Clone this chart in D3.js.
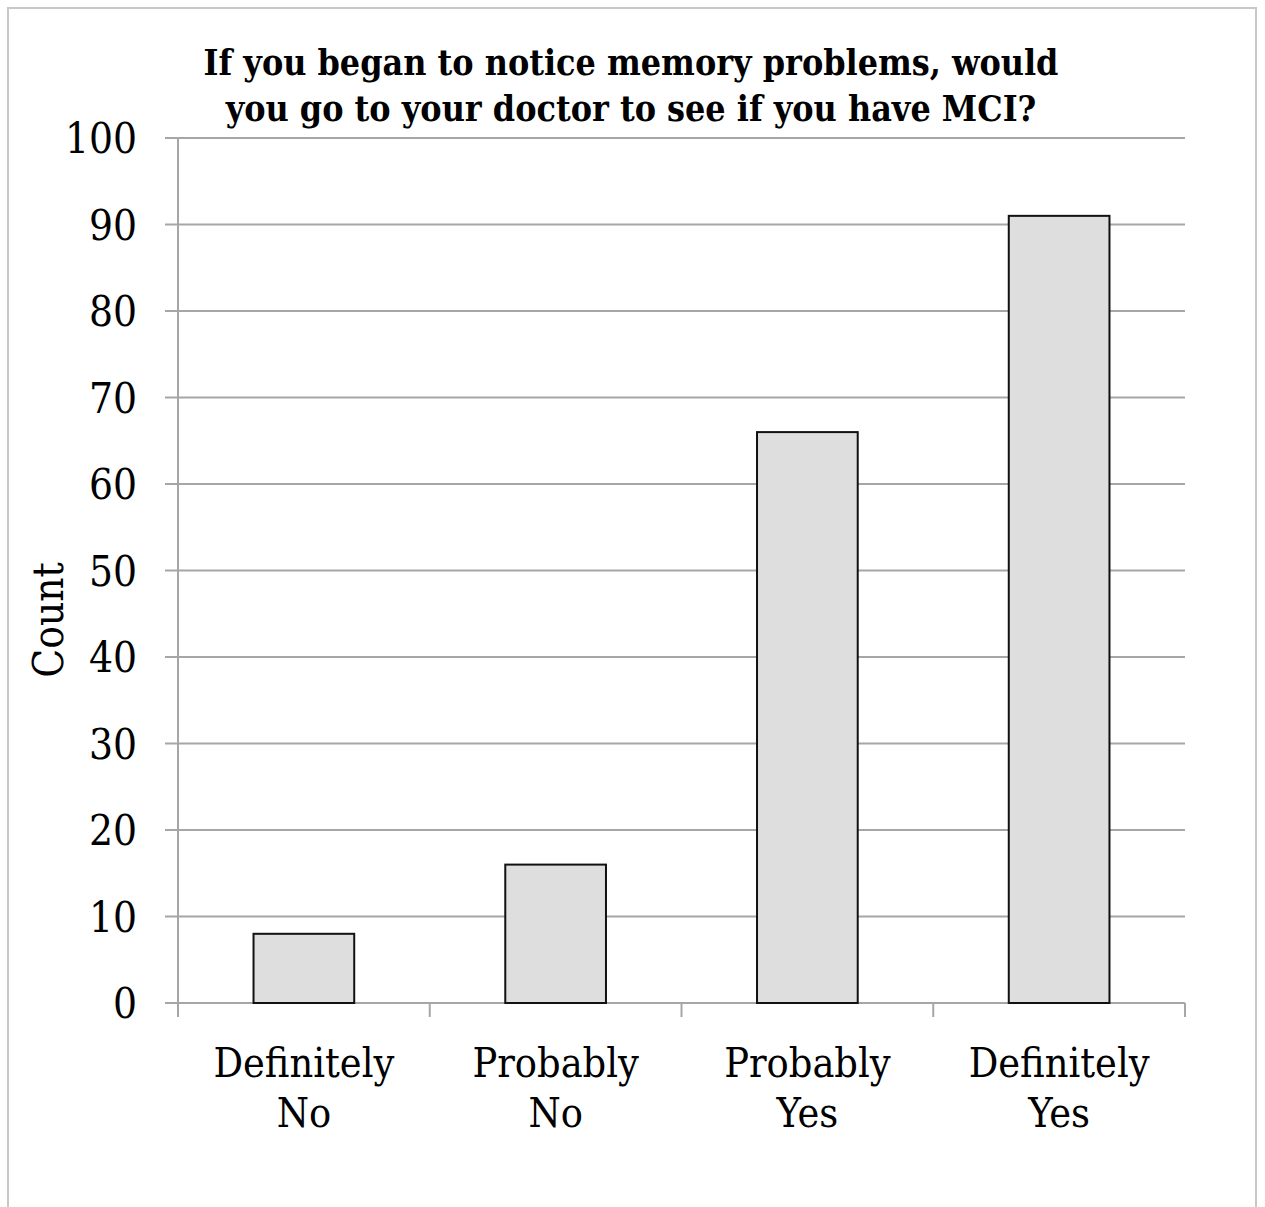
<!DOCTYPE html>
<html>
<head>
<meta charset="utf-8">
<script src="https://cdn.jsdelivr.net/npm/d3@7"></script>
<style>
  body { margin: 0; background: #fff; }
  svg { display: block; }
</style>
</head>
<body>
<svg id="chart" width="1265" height="1207"></svg>
<script>
const categories = [["Definitely", "No"], ["Probably", "No"], ["Probably", "Yes"], ["Definitely", "Yes"]];
const counts = [8, 16, 66, 91];
const yTicks = [0, 10, 20, 30, 40, 50, 60, 70, 80, 90, 100];
const titleLines = ["If you began to notice memory problems, would", "you go to your doctor to see if you have MCI?"];

const font = "'DejaVu Serif Condensed', 'Liberation Serif', serif";
const svg = d3.select("#chart");
const width = +svg.attr("width");

// picture frame
svg.append("rect")
  .attr("x", 8).attr("y", 8)
  .attr("width", 1248).attr("height", 1210)
  .attr("fill", "none")
  .attr("stroke", "#c8c8c8")
  .attr("stroke-width", 2);

const margin = { left: 178, right: 80, top: 138, bottom: 204 };
const x = d3.scaleBand()
  .domain(d3.range(categories.length))
  .range([margin.left, width - margin.right])
  .paddingInner(0.6)
  .paddingOuter(0.3);
const y = d3.scaleLinear().domain([0, 100]).range([1003, margin.top]);

// gridlines
svg.append("g")
  .selectAll("line")
  .data(yTicks)
  .join("line")
  .attr("x1", margin.left - 13)
  .attr("x2", width - margin.right)
  .attr("y1", (d) => y(d))
  .attr("y2", (d) => y(d))
  .attr("stroke", "#a6a6a6")
  .attr("stroke-width", 2);

svg.append("line")
  .attr("x1", margin.left).attr("x2", margin.left)
  .attr("y1", y(100)).attr("y2", y(0) + 8)
  .attr("stroke", "#a6a6a6").attr("stroke-width", 2);

// x ticks at category boundaries
const step = x.step();
svg.append("g")
  .selectAll("line")
  .data(d3.range(categories.length + 1))
  .join("line")
  .attr("x1", (i) => margin.left + i * step)
  .attr("x2", (i) => margin.left + i * step)
  .attr("y1", y(0))
  .attr("y2", y(0) + 14)
  .attr("stroke", "#a6a6a6")
  .attr("stroke-width", 2);

svg.append("g")
  .selectAll("text")
  .data(yTicks)
  .join("text")
  .attr("x", 137)
  .attr("y", (d) => y(d))
  .attr("dy", "0.36em")
  .attr("text-anchor", "end")
  .attr("font-family", font)
  .attr("font-size", 42)
  .text((d) => d);

// bars
svg.append("g")
  .selectAll("rect")
  .data(counts)
  .join("rect")
  .attr("x", (d, i) => x(i))
  .attr("y", (d) => y(d))
  .attr("width", x.bandwidth())
  .attr("height", (d) => y(0) - y(d))
  .attr("fill", "#dedede")
  .attr("stroke", "#111")
  .attr("stroke-width", 2);

// category labels
const catLabels = svg.append("g")
  .selectAll("text")
  .data(categories)
  .join("text")
  .attr("text-anchor", "middle")
  .attr("font-family", font)
  .attr("font-size", 41);
catLabels.selectAll("tspan")
  .data((d, i) => d.map((t) => ({ t, i })))
  .join("tspan")
  .attr("x", (d) => x(d.i) + x.bandwidth() / 2)
  .attr("y", (d, j) => 1077 + j * 50)
  .text((d) => d.t);

// axis title
svg.append("text")
  .attr("transform", "translate(63,620) rotate(-90)")
  .attr("text-anchor", "middle")
  .attr("font-family", font)
  .attr("font-size", 42)
  .text("Count");

// chart title
svg.append("g")
  .selectAll("text")
  .data(titleLines)
  .join("text")
  .attr("x", 631)
  .attr("y", (d, i) => 75 + i * 46)
  .attr("text-anchor", "middle")
  .attr("font-family", font)
  .attr("font-weight", "bold")
  .attr("font-size", 35.5)
  .text((d) => d);
</script>
</body>
</html>
